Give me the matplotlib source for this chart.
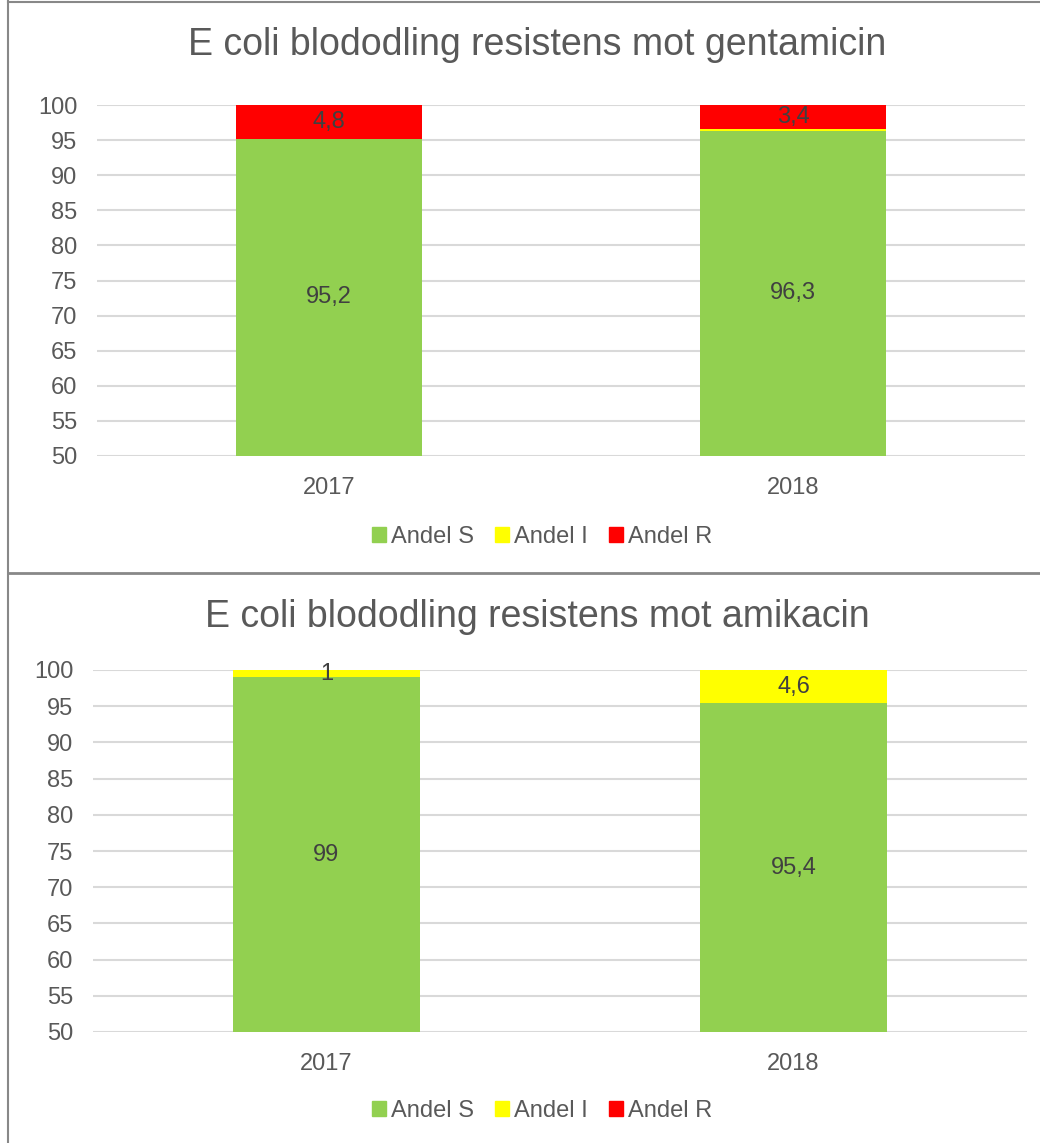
import matplotlib
matplotlib.use("Agg")
import matplotlib.pyplot as plt
import matplotlib.patches as mpatches
import numpy as np

plt.rcParams['font.family'] = ['Liberation Sans', 'DejaVu Sans']

years = ["2017", "2018"]
series = ["Andel S", "Andel I", "Andel R"]
colors = ["#92D050", "#FFFF00", "#FF0000"]

# gentamicin
gen_s = [95.2, 96.3]
gen_i = [0.0, 0.3]
gen_r = [4.8, 3.4]
# amikacin
ami_s = [99.0, 95.4]
ami_i = [1.0, 4.6]
ami_r = [0.0, 0.0]

yticks = list(range(50, 101, 5))
txt = "#595959"
W, H = 1040, 1143


def fig_rect(l, t, r, b):
    # pixel box -> figure fraction [left, bottom, width, height]
    return [l / W, 1 - b / H, (r - l) / W, (b - t) / H]


def draw_chart(ax, title, title_y, s, i, r, legend_y):
    x = np.arange(len(years))
    bottoms = np.zeros(len(years))
    for vals, col in zip([s, i, r], colors):
        vals = np.array(vals)
        ax.bar(x, vals, 0.4, bottom=bottoms, color=col, zorder=3)
        for xi, b, v in zip(x, bottoms, vals):
            if v >= 0.5:
                lab = f"{v:g}".replace(".", ",")
                ax.text(xi, b + v / 2 if b + v / 2 > 50 else (50 + b + v) / 2,
                        lab, ha="center", va="center", fontsize=17,
                        color="#404040", zorder=4)
        bottoms = bottoms + vals
    ax.set_xlim(-0.5, 1.5)
    ax.set_ylim(50, 100)
    ax.set_yticks(yticks)
    ax.set_xticks(x)
    ax.set_xticklabels(years)
    ax.tick_params(axis="both", length=0, labelsize=17, colors=txt)
    ax.tick_params(axis="y", pad=14)
    ax.tick_params(axis="x", pad=15)
    ax.grid(axis="y", color="#D9D9D9", linewidth=1.5, zorder=0)
    for sp in ax.spines.values():
        sp.set_visible(False)
    fig.text(537 / W, 1 - title_y / H, title, ha="center", va="center",
             fontsize=27, color=txt)
    handles = [mpatches.Patch(color=c) for c in colors]
    fig.legend(handles, series, loc="center", ncol=3,
               bbox_to_anchor=(542 / W, 1 - legend_y / H), frameon=False,
               fontsize=17, labelcolor=txt, handlelength=0.6,
               handleheight=0.6, handletextpad=0.2, columnspacing=0.9)


fig = plt.figure(figsize=(W / 100, H / 100), dpi=100)

ax1 = fig.add_axes(fig_rect(97, 105, 1025, 456))
draw_chart(ax1, "E coli blododling resistens mot gentamicin", 45,
           gen_s, gen_i, gen_r, 537)

ax2 = fig.add_axes(fig_rect(93, 670, 1027, 1032))
draw_chart(ax2, "E coli blododling resistens mot amikacin", 617,
           ami_s, ami_i, ami_r, 1111)

# chart borders
border = "#888888"
fig.add_artist(plt.Line2D([7.5 / W, 7.5 / W], [0, 1], color=border, lw=1.5))
fig.add_artist(plt.Line2D([7.5 / W, 1], [1 - 1.5 / H, 1 - 1.5 / H], color=border, lw=1.5))
fig.add_artist(plt.Line2D([7.5 / W, 1], [1 - 573 / H, 1 - 573 / H], color=border, lw=2))

fig.savefig("out.png", dpi=100)
